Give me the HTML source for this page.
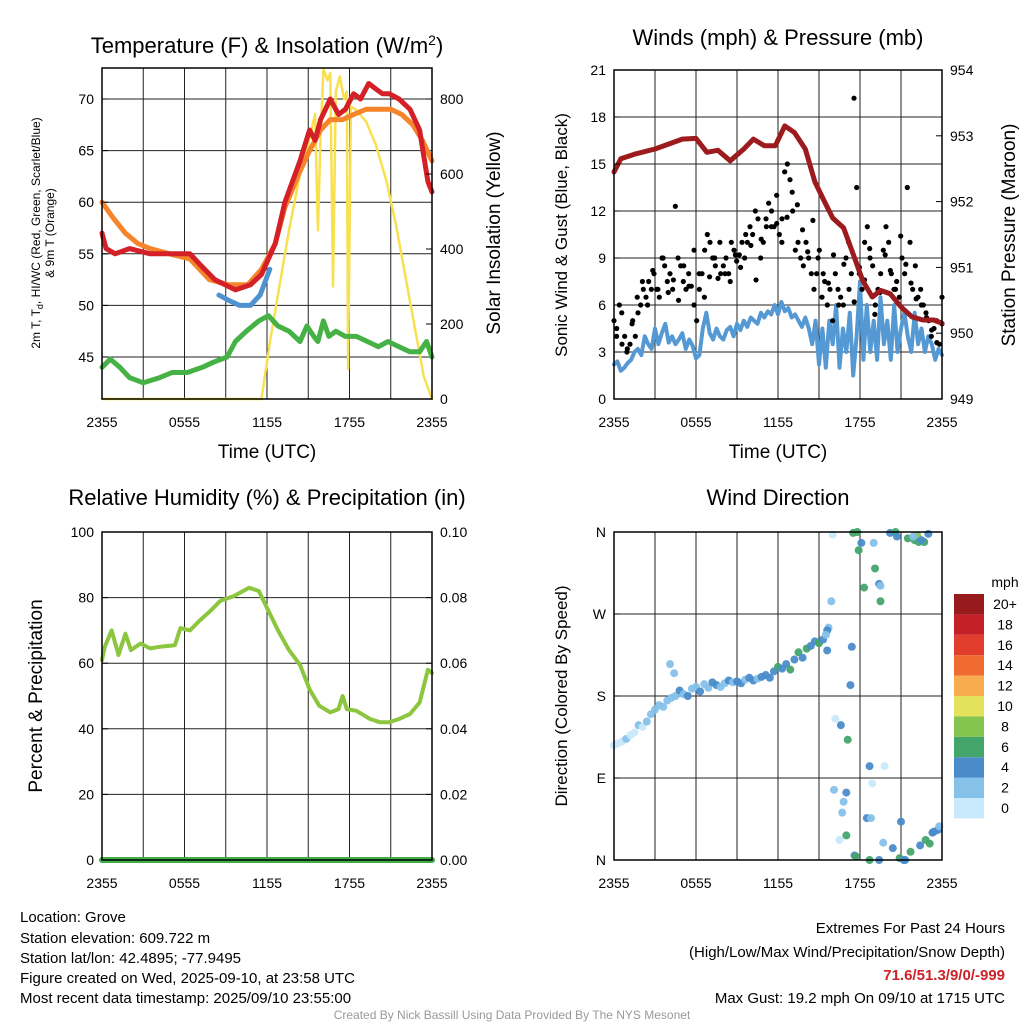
<!DOCTYPE html>
<html><head><meta charset="utf-8"><style>
body{margin:0;background:#fff;width:1024px;height:1024px;overflow:hidden;font-family:"Liberation Sans",sans-serif}
svg text{font-family:"Liberation Sans",sans-serif}
</style></head><body>
<svg id="s" width="1024" height="1024" xmlns="http://www.w3.org/2000/svg">
<g><text x="267" y="53" font-size="22" text-anchor="middle">Temperature (F) &amp; Insolation (W/m<tspan dy="-8" font-size="14">2</tspan><tspan dy="8">)</tspan></text></g>
<text transform="translate(40,233) rotate(-90)" font-size="12" text-anchor="middle">2m T, T<tspan dy="3" font-size="9">d</tspan><tspan dy="-3">, HI/WC (Red, Green, Scarlet/Blue)</tspan></text>
<text transform="translate(54,233) rotate(-90)" font-size="12" text-anchor="middle">&amp; 9m T (Orange)</text>
<text transform="translate(500,233) rotate(-90)" font-size="19" text-anchor="middle">Solar Insolation (Yellow)</text>
<text x="267" y="458" font-size="19" text-anchor="middle">Time (UTC)</text>
<text x="778" y="45" font-size="22" text-anchor="middle">Winds (mph) &amp; Pressure (mb)</text>
<text transform="translate(567,235) rotate(-90)" font-size="17" text-anchor="middle">Sonic Wind &amp; Gust (Blue, Black)</text>
<text transform="translate(1015,235) rotate(-90)" font-size="19" text-anchor="middle">Station Pressure (Maroon)</text>
<text x="778" y="458" font-size="19" text-anchor="middle">Time (UTC)</text>
<text x="267" y="505" font-size="22" text-anchor="middle">Relative Humidity (%) &amp; Precipitation (in)</text>
<text transform="translate(42,696) rotate(-90)" font-size="19" text-anchor="middle">Percent &amp; Precipitation</text>
<text x="778" y="505" font-size="22" text-anchor="middle">Wind Direction</text>
<text transform="translate(567,696) rotate(-90)" font-size="17" text-anchor="middle">Direction (Colored By Speed)</text>
<g font-size="15">
<text x="20" y="922">Location: Grove</text>
<text x="20" y="943">Station elevation: 609.722 m</text>
<text x="20" y="963">Station lat/lon: 42.4895; -77.9495</text>
<text x="20" y="983">Figure created on Wed, 2025-09-10, at 23:58 UTC</text>
<text x="20" y="1003">Most recent data timestamp: 2025/09/10 23:55:00</text>
</g>
<g font-size="15" text-anchor="end">
<text x="1005" y="933">Extremes For Past 24 Hours</text>
<text x="1005" y="957">(High/Low/Max Wind/Precipitation/Snow Depth)</text>
<text x="1005" y="980" fill="#cc2229" font-weight="bold">71.6/51.3/9/0/-999</text>
<text x="1005" y="1003">Max Gust: 19.2 mph On 09/10 at 1715 UTC</text>
</g>
<text x="512" y="1019" font-size="12" fill="#999" text-anchor="middle">Created By Nick Bassill Using Data Provided By The NYS Mesonet</text>
<g id="g"></g>
</svg>
<script>
// ---- data ----
const xTickLabels=["2355","0555","1155","1755","2355"];
const redT=[0,0.3,0.95,2.0,3.5,4.9,6.4,7.1,8.2,9.7,10.8,11.6,12.6,13.3,14.4,15.1,15.5,15.9,16.6,17.2,17.7,18.3,18.8,19.4,19.9,20.4,20.9,21.6,22.4,23.1,23.7,24];
const redV=[57,55.5,55,55.5,55,55,55,54,52.5,51.5,52,53,56,60,64,67,66,68,70,68.5,69,70.5,70,71.5,71,70.5,70.5,70,69,67,62,61];
const orT=[0,0.8,1.7,2.6,3.5,4.9,6.4,7.8,9.2,10.6,11.6,12.6,13.3,14.4,15.1,15.9,16.6,17.5,18.3,19.2,20.2,21.0,21.8,22.6,23.3,24];
const orV=[60,58.5,57,56,55.5,55,54.5,52.5,52,52,53.5,56,59.5,63,65,67,68,68,68.5,69,69,69,68.5,67.5,66,64];
const blT=[8.5,9.2,10,10.8,11.5,12.2];
const blV=[51,50.5,50,50,51,53.5];
const dpT=[0,0.6,1.3,2,3,4.2,5.1,6.2,7.3,8.1,9.1,9.7,10.5,11.4,12.1,12.8,13.6,14.4,14.9,15.4,15.7,16.1,16.5,17,17.7,18.5,19.3,20.1,20.8,21.6,22.4,23.1,23.6,24];
const dpV=[44,44.8,44,43,42.5,43,43.5,43.5,44,44.5,45,46.5,47.5,48.5,49,48,47.5,46.5,48,47,46.5,48.5,47,47.5,47,47,46.5,46,46.5,46,45.5,45.5,46.5,45];
const solT=[0,11.6,12.2,12.9,13.6,14.4,15.0,15.5,15.7,15.9,16.1,16.4,16.6,16.8,17.0,17.3,17.6,17.8,17.9,18.1,18.5,19.2,19.9,20.7,21.4,22.1,22.8,23.4,24];
const solV=[0,0,150,300,450,600,680,760,450,700,880,850,870,300,820,860,800,820,80,780,770,740,680,580,460,320,180,60,0];
const presT=[0,0.5,1.5,3,5,6,6.8,7.6,8.5,9.5,10.2,11,11.8,12.5,13.2,14,14.7,15.4,16,16.8,17.5,18.2,18.9,19.5,20.2,21,21.8,22.6,23.4,24];
const presV=[952.45,952.65,952.72,952.8,952.95,952.96,952.75,952.78,952.62,952.8,952.95,952.85,952.85,953.15,953.05,952.8,952.3,952.0,951.75,951.6,951.2,950.8,950.55,950.65,950.6,950.4,950.25,950.2,950.2,950.15];
const sonicV=[2.2,2.4,1.8,2,2.3,2.5,3,3.2,2.8,4,3.5,3.2,4.5,3.5,4.2,4.8,3.6,4,3.5,3.8,4.2,3.2,3.8,3.4,2.6,2.8,4.5,5.5,4.2,3.8,4.5,4,3.8,4.4,4.6,4,4.8,4.4,5,4.6,5.2,5,4.8,5.5,5.2,5.6,5.4,6,5.4,6.2,5.6,5.8,5.2,5.4,5,4.6,5.2,4.5,3.5,5,2.2,4.5,2,5,3.5,6,2,4.5,3,5.5,1.5,4,7.5,2.5,6,3,5,2.5,6.5,3.5,5,2.5,6,3,4.5,5.5,4,3,5.5,3.5,4.5,3,4,3.5,2.5,3.2,2.8];
const gustV=[5,4.5,6,3.5,4,3.2,3.5,5,4,5.5,6,7,6.5,7.5,7,8,7,6.5,9,8.5,7.5,8,7,12.3,9,8.5,7.5,7,8,7.2,6,5,7,8,9.5,10.5,10,9,8.5,7.7,8,8.5,9,8,10,9.5,8.8,9.2,10,9,10,11,10.5,12,11.5,9,10,11.5,12.5,11,11,13,10.5,11.5,14.5,15,14,12,9.5,10,9,8.5,10,9,8,7,8,9.5,6.5,7.5,6,7,5,8,7,6.5,6,9,10,8,19.2,13.5,8,7,10,11,9,8.5,6,7,8,9.5,11,10,8,7,7.5,6.5,9,8,13.5,10,7,8.5,6.5,7,6,5.5,5,4,4.5,5,3.5,6.5];
const gust2V=[4,5.5,3,4.8,6.5,7.5,6,8.2,7,9,6.8,7.6,6.3,8.5,7.2,9.5,8,6.5,7.8,9,10,8,7.5,9.2,8.4,10.5,9.8,7.6,10.2,11,12,11.2,10,11.6,13.2,12.4,10.8,9.4,11.4,9,8,7.4,9.2,6,8.6,7,6.2,8.4,7.6,9.6,5.4,6.8,9.2,8.2,7,10.4,8.6,7.4,6.4,6,5.2,4.4,3.6,4.8];
const rhT=[0,0.2,0.7,1.2,1.7,2.1,2.8,3.5,4.2,5.3,5.7,6.4,7.1,7.9,8.6,9.6,10.7,11.4,12.1,12.8,13.6,14.4,15.1,15.8,16.6,17.2,17.5,17.8,18.5,19.5,20.2,20.9,21.6,22.4,23.1,23.7,24];
const rhV=[61,65,70,62.5,69,64,66,64.5,65,65.5,70.7,70,73,76,79,80.5,83,82,76,70,64,59.5,52,47,45,46,50,46,45.5,43,42,42,43,44.5,48,58,57];
const dirT=[0,0.3,0.6,0.9,1.2,1.5,1.8,2.1,2.4,2.7,3,3.3,3.6,3.9,4.2,4.5,4.8,5.1,5.4,5.7,6,6.3,6.6,6.9,7.2,7.5,7.8,8.1,8.4,8.7,9,9.3,9.6,9.9,10.2,10.5,10.8,11.1,11.4,11.7,12,12.3,12.6,12.9,13.2,13.5,13.8,14.1,14.4,14.7,15,15.3,15.6,15.7,15.9,16.0,16.1,16.2,16.5,16.6,16.7,16.8,17.0,17.0,17.1,17.3,17.4,17.5,17.6,17.7,17.8,17.9,18.1,18.3,18.5,18.7,18.7,18.8,18.9,19.0,19.1,19.4,19.4,19.5,19.5,19.7,19.8,20.2,20.4,20.6,20.7,20.9,21.0,21.2,21.3,21.5,21.7,22.0,22.2,22.3,22.4,22.7,22.8,23.0,23.1,23.3,23.4,23.7,23.8,21.9,22.5,15.6,15.5,4.1,4.4];
const dirV=[126,128,130,133,137,140,148,146,152,160,165,170,168,175,178,180,186,182,180,188,190,185,193,189,195,192,190,194,197,195,196,194,198,200,197,199,201,203,200,207,212,210,215,209,220,228,222,232,235,240,238,242,230,255,284,357,77,155,22,148,52,64,74,27,132,192,234,359,5,4,360,340,348,299,46,103,0,46,84,348,320,303,0,301,284,19,103,359,13,360,355,2,42,0,0,353,9,351,356,349,16,349,22,358,18,30,31,33,37,355,351,252,247,215,205];
const dirS=[1,1,1,2,1,1,2,1,2,3,2,3,3,2,3,3,4,3,4,3,3,4,3,3,4,4,3,3,4,3,4,4,3,4,4,3,4,5,4,4,6,5,5,6,4,6,5,6,4,4,6,4,4,2,2,1,2,1,1,4,3,2,4,7,6,4,4,6,4,7,6,6,5,6,4,4,6,3,1,3,6,4,5,3,7,3,1,5,4,6,5,6,5,4,4,6,6,6,8,6,4,6,6,4,6,4,4,4,2,2,4,4,3,3,2];
const cbarLabels=["0","2","4","6","8","10","12","14","16","18","20+"];
const cbarColors=["#c8e9fb","#86c1ea","#4a8cca","#44a56b","#85c44e","#e4e15c","#f7ad4e","#ef6b2f","#e13e2d","#c32027","#971b1d"];
// ---- drawing ----
const NS="http://www.w3.org/2000/svg",G=document.getElementById('g');
function el(tag,a,parent){const e=document.createElementNS(NS,tag);for(const k in a)e.setAttribute(k,a[k]);(parent||G).appendChild(e);return e;}
function lin(d0,d1,r0,r1){return v=>r0+(v-d0)/(d1-d0)*(r1-r0);}
function panel(name,x0,x1,y0,y1){
 const g=el('g',{});
 return {g,x:lin(0,24,x0,x1),x0,x1,y0,y1};
}
function grid(p,yvals,ys){
 for(let h=0;h<=24;h+=3){const l=el('line',{x1:p.x(h),x2:p.x(h),y1:p.y0,y2:p.y1,stroke:'#222','stroke-width':1},p.g);}
 yvals.forEach(v=>{const l=el('line',{x1:p.x0,x2:p.x1,y1:ys(v),y2:ys(v),stroke:'#222','stroke-width':1},p.g);});
 xTickLabels.forEach((t,i)=>{const e=el('text',{x:p.x(i*6),y:p.y1+28,'font-size':14,'text-anchor':'middle'},p.g);e.textContent=t;});
}
function frame(p){const r=el('rect',{x:p.x0,y:p.y0,width:p.x1-p.x0,height:p.y1-p.y0,fill:'none',stroke:'#000','stroke-width':1.5},p.g);}
function ylabels(p,vals,ys,fmt,side){vals.forEach(v=>{const e=el('text',{x:side?p.x1+8:p.x0-8,y:ys(v)+5,'font-size':14,'text-anchor':side?'start':'end'},p.g);e.textContent=fmt(v);
 el('line',{x1:side?p.x1-6:p.x0,x2:side?p.x1:p.x0+6,y1:ys(v),y2:ys(v),stroke:'#000'},p.g);});}
function line(p,T,V,ys,color,w,name){const d=T.map((t,i)=>(i?'L':'M')+p.x(t).toFixed(1)+','+ys(V[i]).toFixed(1)).join('');const e=el('path',{d,fill:'none',stroke:color,'stroke-width':w,'stroke-linejoin':'round','stroke-linecap':'round'},p.g);}
// Panel 1
const p1=panel('temperature-panel',102,432,68,399);
const yT=lin(45,70,357,99),yS=lin(0,800,399,99);
grid(p1,[45,50,55,60,65,70],yT);
line(p1,solT,solV,yS,'#f8e050',2.5,'solar-insolation-line');
line(p1,dpT,dpV,yT,'#46b245',5,'dewpoint-line');
line(p1,orT,orV,yT,'#f5842b',5,'temp-9m-line');
line(p1,redT,redV,yT,'#d42027',5,'temp-2m-line');
line(p1,blT,blV,yT,'#4f92d0',5,'heat-index-line');
frame(p1);
ylabels(p1,[45,50,55,60,65,70],yT,v=>v,0);
ylabels(p1,[0,200,400,600,800],yS,v=>v,1);
// Panel 2
const p2=panel('wind-panel',614,942,70,399);
const yW=lin(0,21,399,70),yP=lin(949,954,399,70);
grid(p2,[0,3,6,9,12,15,18,21],yW);
line(p2,sonicV.map((v,i)=>i*24/(sonicV.length-1)),sonicV,yW,'#5599d4',4,'sonic-wind-line');
[gustV,gust2V].forEach((arr,k)=>arr.forEach((v,i)=>{const c=el('circle',{cx:p2.x((i+k*0.5)*24/(arr.length-1+k*0.5)),cy:yW(v),r:2.6,fill:'#000'},p2.g);}));
line(p2,presT,presV,yP,'#9b1b1e',5,'pressure-line');
frame(p2);
ylabels(p2,[0,3,6,9,12,15,18,21],yW,v=>v,0);
ylabels(p2,[949,950,951,952,953,954],yP,v=>v,1);
// Panel 3
const p3=panel('humidity-panel',102,432,532,860);
const yR=lin(0,100,860,532);
grid(p3,[0,20,40,60,80,100],yR);
line(p3,rhT,rhV,yR,'#8cc63f',4,'relative-humidity-line');
line(p3,[0,24],[0,0],yR,'#3fae49',6,'precipitation-line');
frame(p3);
ylabels(p3,[0,20,40,60,80,100],yR,v=>v,0);
ylabels(p3,[0,20,40,60,80,100],yR,v=>(v/1000).toFixed(2),1);
// Panel 4
const p4=panel('wind-direction-panel',614,942,532,860);
const yD=lin(0,360,860,532);
grid(p4,[0,90,180,270,360],yD);
dirT.forEach((t,i)=>{const c=el('circle',{cx:p4.x(t),cy:yD(dirV[i]),r:4,fill:cbarColors[Math.min(10,Math.floor(dirS[i]/2))],'fill-opacity':0.95},p4.g);});
frame(p4);
ylabels(p4,[0,90,180,270,360],yD,v=>["N","E","S","W","N"][v/90],0);
// colorbar
const cb=el('g',{});
const ct=el('text',{x:1005,y:587,'font-size':14,'text-anchor':'middle'},cb);ct.textContent='mph';
cbarLabels.forEach((lab,i)=>{const y=798-i*20.4;
 const r=el('rect',{x:954,y:y,width:30,height:20.4,fill:cbarColors[i]},cb);
 const t=el('text',{x:1005,y:y+15,'font-size':14,'text-anchor':'middle'},cb);t.textContent=lab;});
</script>
</body></html>
